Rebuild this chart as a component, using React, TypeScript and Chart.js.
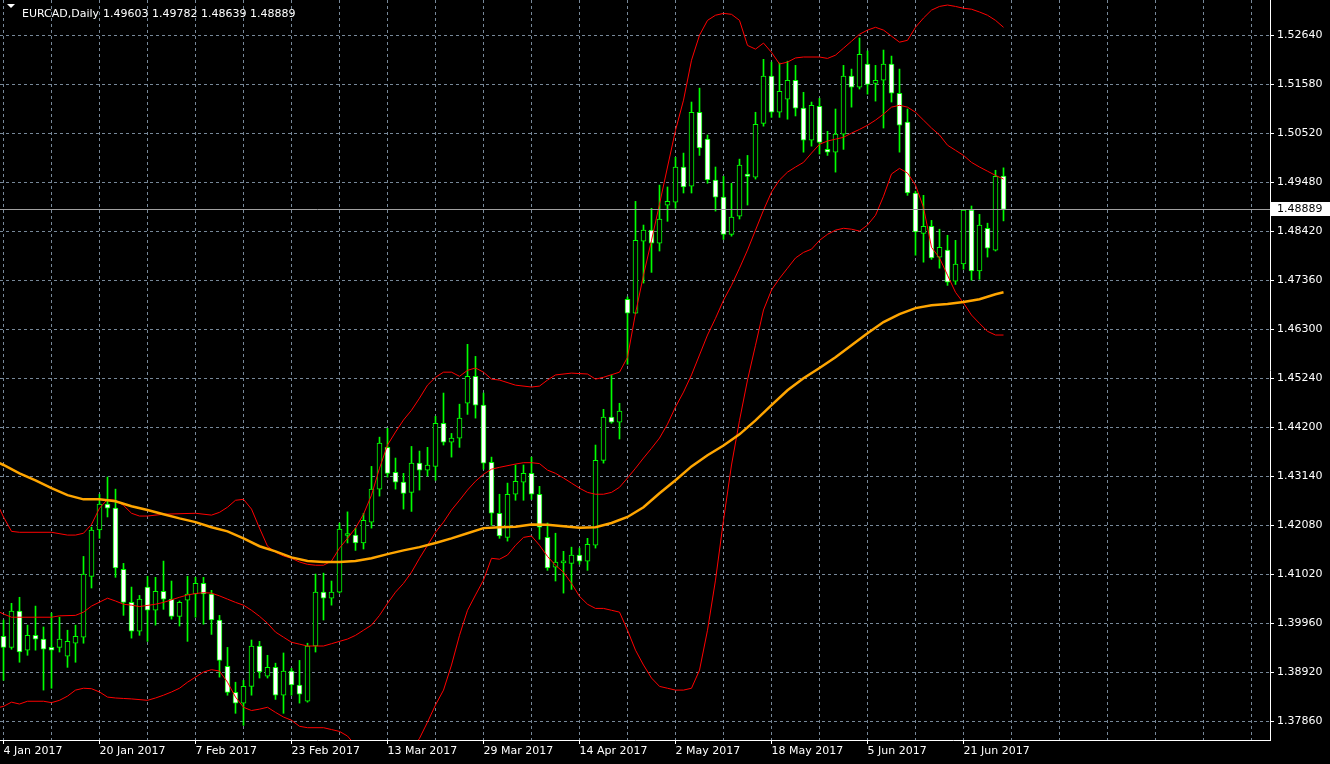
import React, { useEffect, useRef } from 'react';
import { Chart, registerables } from 'chart.js';

Chart.register(...registerables);

const FONT = '"DejaVu Sans", Verdana, sans-serif';

const symbol = 'EURCAD';
const period = 'Daily';

const xTickLabels = ['4 Jan 2017', '20 Jan 2017', '7 Feb 2017', '23 Feb 2017', '13 Mar 2017', '29 Mar 2017', '14 Apr 2017', '2 May 2017', '18 May 2017', '5 Jun 2017', '21 Jun 2017'];
const yTickLabels = ['1.37860', '1.38920', '1.39960', '1.41020', '1.42080', '1.43140', '1.44200', '1.45240', '1.46300', '1.47360', '1.48420', '1.49480', '1.50520', '1.51580', '1.52640'];

const opens = [1.3969, 1.3945, 1.4023, 1.3939, 1.3971, 1.3963, 1.3945, 1.3945, 1.3926, 1.3954, 1.3967, 1.4098, 1.4198, 1.4254, 1.4245, 1.4113, 1.4042, 1.3980, 1.4075, 1.4025, 1.4066, 1.4049, 1.4012, 1.4047, 1.4060, 1.4083, 1.4060, 1.4004, 1.3904, 1.3848, 1.3825, 1.3861, 1.3948, 1.3883, 1.3902, 1.3842, 1.3894, 1.3864, 1.3829, 1.3948, 1.4064, 1.4051, 1.4064, 1.4186, 1.4187, 1.4170, 1.4215, 1.4286, 1.4376, 1.4322, 1.4301, 1.4279, 1.4342, 1.4327, 1.4335, 1.4428, 1.4387, 1.4396, 1.4471, 1.4529, 1.4467, 1.4344, 1.4234, 1.4182, 1.4275, 1.4301, 1.4320, 1.4275, 1.4182, 1.4118, 1.4127, 1.4126, 1.4144, 1.4131, 1.4165, 1.4348, 1.4441, 1.4430, 1.4695, 1.4665, 1.4820, 1.4844, 1.4816, 1.4898, 1.4904, 1.4980, 1.4939, 1.5098, 1.5040, 1.4952, 1.4915, 1.4835, 1.4874, 1.4965, 1.4958, 1.5074, 1.5176, 1.5098, 1.5126, 1.5167, 1.5107, 1.5038, 1.5111, 1.5018, 1.5012, 1.5051, 1.5176, 1.5152, 1.5202, 1.5160, 1.5167, 1.5202, 1.5139, 1.5077, 1.4924, 1.4837, 1.4852, 1.4786, 1.4801, 1.4734, 1.4771, 1.4887, 1.4756, 1.4848, 1.4801, 1.49603];
const highs = [1.4004, 1.4040, 1.4053, 1.3993, 1.4034, 1.3989, 1.4019, 1.4010, 1.3982, 1.3993, 1.4141, 1.4204, 1.4275, 1.4312, 1.4286, 1.4126, 1.4075, 1.4057, 1.4098, 1.4096, 1.4131, 1.4088, 1.4045, 1.4098, 1.4096, 1.4096, 1.4068, 1.4014, 1.3945, 1.3870, 1.3874, 1.3961, 1.3958, 1.3928, 1.3911, 1.3933, 1.3900, 1.3917, 1.3954, 1.4103, 1.4105, 1.4088, 1.4213, 1.4237, 1.4202, 1.4234, 1.4335, 1.4398, 1.4417, 1.4353, 1.4320, 1.4378, 1.4368, 1.4376, 1.4443, 1.4493, 1.4406, 1.4469, 1.4598, 1.4572, 1.4493, 1.4355, 1.4275, 1.4299, 1.4338, 1.4338, 1.4355, 1.4292, 1.4213, 1.4191, 1.4152, 1.4161, 1.4159, 1.4180, 1.4381, 1.4458, 1.4531, 1.4471, 1.4700, 1.4906, 1.4855, 1.4891, 1.4941, 1.4937, 1.5001, 1.5010, 1.5120, 1.5150, 1.5049, 1.4980, 1.4960, 1.4945, 1.4997, 1.5005, 1.5098, 1.5212, 1.5206, 1.5204, 1.5208, 1.5199, 1.5141, 1.5120, 1.5128, 1.5057, 1.5105, 1.5199, 1.5191, 1.5258, 1.5230, 1.5199, 1.5232, 1.5219, 1.5191, 1.5105, 1.4928, 1.4919, 1.4865, 1.4846, 1.4833, 1.4822, 1.4888, 1.4896, 1.4878, 1.4859, 1.4973, 1.49782];
const lows = [1.3874, 1.3941, 1.3913, 1.3928, 1.3939, 1.3853, 1.3857, 1.3935, 1.3902, 1.3913, 1.3954, 1.4073, 1.4180, 1.4226, 1.4096, 1.4014, 1.3965, 1.3971, 1.3958, 1.3993, 1.4027, 1.4006, 1.3991, 1.3958, 1.4010, 1.3995, 1.3973, 1.3881, 1.3842, 1.3803, 1.3777, 1.3842, 1.3879, 1.3879, 1.3833, 1.3803, 1.3842, 1.3825, 1.3827, 1.3935, 1.4004, 1.4036, 1.4062, 1.4170, 1.4154, 1.4157, 1.4202, 1.4271, 1.4312, 1.4286, 1.4243, 1.4238, 1.4284, 1.4314, 1.4305, 1.4381, 1.4355, 1.4376, 1.4447, 1.4439, 1.4329, 1.4208, 1.4180, 1.4174, 1.4262, 1.4262, 1.4264, 1.4178, 1.4111, 1.4088, 1.4062, 1.4070, 1.4124, 1.4111, 1.4159, 1.4342, 1.4428, 1.4394, 1.4555, 1.4664, 1.4730, 1.4753, 1.4799, 1.4863, 1.4891, 1.4924, 1.4924, 1.5005, 1.4945, 1.4885, 1.4824, 1.4831, 1.4868, 1.4898, 1.4954, 1.5068, 1.5087, 1.5087, 1.5083, 1.5090, 1.5012, 1.5025, 1.5008, 1.5005, 1.4969, 1.5018, 1.5109, 1.5148, 1.5137, 1.5122, 1.5064, 1.5120, 1.5012, 1.4919, 1.4790, 1.4775, 1.4781, 1.4762, 1.4725, 1.4727, 1.4760, 1.4736, 1.4738, 1.4786, 1.4799, 1.48639];
const closes = [1.3945, 1.4023, 1.3935, 1.3971, 1.3963, 1.3941, 1.3939, 1.3963, 1.3958, 1.3969, 1.4103, 1.4198, 1.4254, 1.4245, 1.4116, 1.4042, 1.3980, 1.4049, 1.4025, 1.4066, 1.4049, 1.4012, 1.4042, 1.4060, 1.4083, 1.4060, 1.4004, 1.3917, 1.3848, 1.3825, 1.3861, 1.3948, 1.3892, 1.3902, 1.3842, 1.3894, 1.3864, 1.3844, 1.3948, 1.4064, 1.4051, 1.4064, 1.4200, 1.4188, 1.4170, 1.4219, 1.4286, 1.4385, 1.4320, 1.4301, 1.4277, 1.4342, 1.4327, 1.4338, 1.4428, 1.4387, 1.4396, 1.4439, 1.4529, 1.4467, 1.4342, 1.4234, 1.4185, 1.4275, 1.4303, 1.4320, 1.4275, 1.4204, 1.4116, 1.4129, 1.4129, 1.4144, 1.4131, 1.4167, 1.4348, 1.4441, 1.4430, 1.4454, 1.4665, 1.4822, 1.4844, 1.4816, 1.4868, 1.4906, 1.4980, 1.4937, 1.5098, 1.5021, 1.4952, 1.4915, 1.4835, 1.4872, 1.4984, 1.4960, 1.5072, 1.5176, 1.5098, 1.5143, 1.5167, 1.5107, 1.5038, 1.5113, 1.5033, 1.5012, 1.5051, 1.5176, 1.5152, 1.5223, 1.5158, 1.5167, 1.5202, 1.5139, 1.5070, 1.4924, 1.4840, 1.4852, 1.4784, 1.4807, 1.4732, 1.4771, 1.4887, 1.4756, 1.4855, 1.4805, 1.4960, 1.48889];

// [bar index, value]
const bbUpper = [[-1, 1.4262], [0, 1.4226], [1, 1.4195], [2, 1.4193], [6, 1.4193], [8, 1.4187], [9, 1.4187], [10, 1.4191], [11, 1.4210], [12, 1.4245], [13, 1.4264], [14, 1.4262], [15, 1.4251], [16, 1.4234], [17, 1.4228], [18, 1.4228], [20, 1.4232], [24, 1.4234], [26, 1.4230], [27, 1.4236], [28, 1.4247], [29, 1.4262], [30, 1.4264], [31, 1.4243], [32, 1.4202], [33, 1.4163], [34, 1.4150], [35, 1.4142], [36, 1.4137], [37, 1.4129], [38, 1.4124], [39, 1.4122], [40, 1.4122], [41, 1.4131], [42, 1.4159], [43, 1.4180], [44, 1.4202], [45, 1.4232], [46, 1.4273], [47, 1.4331], [48, 1.4381], [49, 1.4409], [50, 1.4435], [51, 1.4456], [52, 1.4482], [53, 1.4510], [54, 1.4527], [55, 1.4538], [56, 1.4538], [57, 1.4529], [58, 1.4542], [59, 1.4547], [60, 1.4538], [61, 1.4523], [62, 1.4521], [64, 1.4510], [66, 1.4506], [67, 1.4508], [68, 1.4521], [69, 1.4532], [71, 1.4536], [73, 1.4534], [74, 1.4523], [75, 1.4527], [77, 1.4538], [78, 1.4570], [79, 1.4665], [80, 1.4747], [81, 1.4822], [82, 1.4900], [83, 1.4980], [84, 1.5059], [85, 1.5124], [86, 1.5210], [87, 1.5264], [88, 1.5296], [89, 1.5307], [90, 1.5311], [91, 1.5309], [92, 1.5296], [93, 1.5242], [94, 1.5234], [95, 1.5247], [96, 1.5227], [97, 1.5202], [98, 1.5206], [99, 1.5215], [100, 1.5217], [102, 1.5217], [103, 1.5214], [104, 1.5221], [105, 1.5236], [106, 1.5251], [107, 1.5266], [108, 1.5275], [109, 1.5281], [110, 1.5275], [111, 1.5262], [112, 1.5249], [113, 1.5253], [114, 1.5281], [115, 1.5301], [116, 1.5318], [117, 1.5326], [118, 1.5329], [119, 1.5326], [120, 1.5322], [121, 1.5320], [122, 1.5314], [123, 1.5307], [124, 1.5296], [125, 1.5281]];
const bbMiddle = [[-1, 1.4025], [0, 1.4017], [1, 1.4010], [4, 1.4010], [6, 1.4010], [7, 1.4013], [9, 1.4014], [10, 1.4021], [11, 1.4034], [13, 1.4051], [14, 1.4045], [15, 1.4038], [16, 1.4036], [17, 1.4033], [19, 1.4038], [20, 1.4042], [22, 1.4053], [23, 1.4058], [24, 1.4061], [25, 1.4063], [26, 1.4062], [27, 1.4056], [28, 1.4049], [29, 1.4042], [30, 1.4036], [31, 1.4025], [32, 1.4012], [33, 1.3997], [34, 1.3978], [35, 1.3967], [36, 1.3956], [37, 1.3952], [38, 1.3948], [40, 1.3948], [41, 1.3953], [42, 1.3958], [43, 1.3963], [44, 1.3971], [45, 1.3982], [46, 1.3993], [47, 1.4014], [48, 1.4040], [49, 1.4064], [50, 1.4083], [51, 1.4107], [52, 1.4137], [53, 1.4165], [54, 1.4193], [55, 1.4215], [56, 1.4241], [57, 1.4262], [58, 1.4284], [59, 1.4303], [60, 1.4318], [61, 1.4329], [62, 1.4333], [64, 1.4340], [65, 1.4343], [66, 1.4343], [67, 1.4341], [68, 1.4327], [69, 1.4320], [70, 1.4310], [71, 1.4299], [72, 1.4288], [73, 1.4279], [74, 1.4275], [75, 1.4275], [76, 1.4279], [77, 1.4290], [78, 1.4310], [79, 1.4331], [80, 1.4353], [81, 1.4374], [82, 1.4396], [83, 1.4426], [84, 1.4463], [85, 1.4495], [86, 1.4532], [87, 1.4575], [88, 1.4618], [89, 1.4654], [90, 1.4693], [91, 1.4725], [92, 1.4762], [93, 1.4801], [94, 1.4844], [95, 1.4887], [96, 1.4926], [97, 1.4952], [98, 1.4969], [99, 1.4980], [100, 1.4990], [101, 1.5010], [102, 1.5029], [103, 1.5036], [104, 1.5040], [105, 1.5044], [106, 1.5053], [107, 1.5061], [108, 1.5070], [109, 1.5081], [110, 1.5094], [111, 1.5109], [112, 1.5113], [113, 1.5109], [114, 1.5098], [115, 1.5081], [116, 1.5064], [117, 1.5049], [118, 1.5027], [119, 1.5016], [120, 1.5005], [121, 1.4990], [122, 1.4980], [123, 1.4971], [124, 1.4962], [125, 1.4954]];
const bbLower = [[-1, 1.3814], [0, 1.3818], [1, 1.3827], [2, 1.3823], [3, 1.3829], [5, 1.3829], [6, 1.3826], [7, 1.3831], [8, 1.3840], [9, 1.3853], [10, 1.3857], [11, 1.3856], [12, 1.3849], [13, 1.3838], [14, 1.3836], [15, 1.3835], [16, 1.3834], [18, 1.3831], [19, 1.3836], [20, 1.3842], [21, 1.3849], [22, 1.3857], [23, 1.3870], [24, 1.3881], [25, 1.3892], [26, 1.3897], [27, 1.3894], [28, 1.3870], [29, 1.3838], [30, 1.3816], [31, 1.3809], [32, 1.3812], [33, 1.3816], [34, 1.3805], [35, 1.3795], [36, 1.3788], [37, 1.3775], [38, 1.3772], [40, 1.3772], [41, 1.3768], [42, 1.3764], [43, 1.3754], [44, 1.3734], [46, 1.3702], [48, 1.3680], [50, 1.3691], [51, 1.3723], [52, 1.3749], [53, 1.3784], [54, 1.3821], [55, 1.3853], [56, 1.3907], [57, 1.3971], [58, 1.4025], [59, 1.4058], [60, 1.4090], [61, 1.4137], [62, 1.4135], [63, 1.4144], [64, 1.4165], [65, 1.4182], [66, 1.4185], [67, 1.4165], [68, 1.4141], [69, 1.4122], [70, 1.4107], [71, 1.4083], [72, 1.4055], [73, 1.4038], [74, 1.4029], [75, 1.4029], [76, 1.4025], [77, 1.4021], [78, 1.3982], [79, 1.3939], [80, 1.3907], [81, 1.3879], [82, 1.3861], [83, 1.3857], [84, 1.3853], [85, 1.3853], [86, 1.3857], [87, 1.3896], [88, 1.3982], [89, 1.4090], [90, 1.4219], [91, 1.4338], [92, 1.4434], [93, 1.4521], [94, 1.4596], [95, 1.4672], [96, 1.4715], [97, 1.4740], [98, 1.4762], [99, 1.4784], [100, 1.4796], [101, 1.4803], [102, 1.4822], [103, 1.4835], [104, 1.4844], [105, 1.4848], [106, 1.4846], [107, 1.4842], [108, 1.4855], [109, 1.4876], [110, 1.4917], [111, 1.4965], [112, 1.4977], [113, 1.4967], [114, 1.4941], [115, 1.4893], [116, 1.4807], [117, 1.4784], [118, 1.4747], [119, 1.4710], [120, 1.4687], [121, 1.4661], [122, 1.4643], [123, 1.4626], [124, 1.4618], [125, 1.4618]];
const movingAverage = [[-1, 1.4346], [0, 1.4338], [2, 1.4320], [4, 1.4305], [6, 1.4288], [8, 1.4273], [10, 1.4264], [12, 1.4264], [14, 1.4260], [16, 1.4249], [18, 1.4241], [20, 1.4232], [22, 1.4223], [24, 1.4215], [26, 1.4204], [28, 1.4195], [30, 1.4180], [32, 1.4163], [34, 1.4152], [36, 1.4139], [38, 1.4131], [40, 1.4129], [42, 1.4129], [44, 1.4131], [46, 1.4137], [48, 1.4146], [50, 1.4154], [52, 1.4161], [54, 1.4170], [56, 1.4180], [58, 1.4191], [60, 1.4202], [62, 1.4204], [64, 1.4205], [66, 1.4210], [68, 1.4209], [70, 1.4206], [72, 1.4203], [74, 1.4204], [76, 1.4213], [78, 1.4226], [80, 1.4247], [82, 1.4277], [84, 1.4305], [86, 1.4335], [88, 1.4359], [90, 1.4380], [92, 1.4404], [94, 1.4434], [96, 1.4467], [98, 1.4499], [100, 1.4525], [102, 1.4547], [104, 1.4570], [106, 1.4596], [108, 1.4622], [110, 1.4646], [112, 1.4663], [114, 1.4676], [116, 1.4682], [118, 1.4685], [120, 1.4689], [122, 1.4695], [124, 1.4706], [125, 1.4710]];

// layout constants (pixels)
const CANVAS_W = 1330;
const CANVAS_H = 764;
const PLOT_RIGHT = 1270;
const PLOT_BOTTOM = 740;
const BAR_SPACING = 8;
const FIRST_BAR_CENTER = 3.5;
const GRID_SPACING_Y = 49;
const FIRST_GRID_Y = 721.2;

const GRID_COLOR = '#778899';
const GRID_DASH = [3, 3];

export default function App() {
  const canvasRef = useRef<HTMLCanvasElement | null>(null);

  useEffect(() => {
    document.body.style.margin = '0';
    document.body.style.background = '#000';
    const canvas = canvasRef.current;
    if (!canvas) return;

    const idx = opens.map((_, i) => i);
    const wicks = idx.map((i) => ({ x: i, y: [lows[i], highs[i]] }));
    const bodies = idx.map((i) => ({ x: i, y: [opens[i], closes[i]] }));
    const bodyFill = idx.map((i) => (closes[i] >= opens[i] ? '#000000' : '#ffffff'));
    const toPts = (arr: number[][]) => arr.map(([x, y]) => ({ x, y }));

    const yTickValues = yTickLabels.map((s) => parseFloat(s));
    const yFirst = yTickValues[0];
    const yStep = (yTickValues[yTickValues.length - 1] - yFirst) / (yTickValues.length - 1);
    const pxPerPrice = GRID_SPACING_Y / yStep;
    const yMax = yFirst + FIRST_GRID_Y / pxPerPrice;
    const yMin = yMax - PLOT_BOTTOM / pxPerPrice;
    const gridValues = yTickLabels.map((_, i) => yFirst + i * yStep);

    const xMin = -FIRST_BAR_CENTER / BAR_SPACING;
    const xMax = xMin + PLOT_RIGHT / BAR_SPACING;
    const xTicks: number[] = [];
    for (let k = 0; k <= xMax; k += 6) xTicks.push(k);

    const lastIdx = closes.length - 1;

    const overlay = {
      id: 'mt4overlay',
      beforeDraw(chart: any) {
        const c = chart.ctx;
        c.save();
        c.fillStyle = '#000000';
        c.fillRect(0, 0, chart.width, chart.height);
        c.restore();
      },
      afterDraw(chart: any) {
        const c = chart.ctx;
        const ys = chart.scales.y;
        const area = chart.chartArea;
        const lastClose = closes[lastIdx];
        const py = Math.round(ys.getPixelForValue(lastClose)) + 0.5;
        c.save();
        // bid line
        c.strokeStyle = '#a0a0a0';
        c.lineWidth = 1;
        c.beginPath();
        c.moveTo(area.left, py);
        c.lineTo(area.right, py);
        c.stroke();
        // price label box
        c.fillStyle = '#ffffff';
        c.fillRect(area.right + 1, py - 7.5, CANVAS_W - area.right - 1, 14);
        c.fillStyle = '#000000';
        c.font = `11px ${FONT}`;
        c.textBaseline = 'middle';
        c.textAlign = 'left';
        c.fillText(lastClose.toFixed(5), area.right + 7, py);
        // header
        c.fillStyle = '#ffffff';
        c.beginPath();
        c.moveTo(7, 4);
        c.lineTo(15, 4);
        c.lineTo(11, 8);
        c.closePath();
        c.fill();
        c.textBaseline = 'alphabetic';
        c.fillText(`${symbol},${period}`, 22, 17);
        const vals = [opens[lastIdx], highs[lastIdx], lows[lastIdx], closes[lastIdx]].map((v) => v.toFixed(5)).join(' ');
        c.fillText(vals, 103, 17);
        c.restore();
      },
    };

    const chart = new Chart(canvas, {
      type: 'bar',
      data: {
        datasets: [
          { type: 'line', label: 'MA', data: toPts(movingAverage), borderColor: '#ffa500', borderWidth: 2.5, pointRadius: 0, tension: 0, order: 0 } as any,
          { type: 'line', label: 'BB upper', data: toPts(bbUpper), borderColor: '#ff0000', borderWidth: 1, pointRadius: 0, tension: 0, order: 1 } as any,
          { type: 'line', label: 'BB middle', data: toPts(bbMiddle), borderColor: '#ff0000', borderWidth: 1, pointRadius: 0, tension: 0, order: 2 } as any,
          { type: 'line', label: 'BB lower', data: toPts(bbLower), borderColor: '#ff0000', borderWidth: 1, pointRadius: 0, tension: 0, order: 3 } as any,
          { type: 'bar', label: 'body', data: bodies, backgroundColor: bodyFill, borderColor: '#00ff00', borderWidth: 1, borderSkipped: false, barThickness: 5, grouped: false, minBarLength: 2, order: 5, clip: 0 } as any,
          { type: 'bar', label: 'wick', data: wicks, backgroundColor: '#00ff00', borderWidth: 0, barThickness: 1, grouped: false, order: 6, clip: 0 } as any,
        ],
      },
      options: {
        animation: false,
        responsive: false,
        maintainAspectRatio: false,
        devicePixelRatio: 1,
        layout: { padding: 0 },
        plugins: { legend: { display: false }, tooltip: { enabled: false }, title: { display: false } },
        scales: {
          x: {
            type: 'linear',
            position: 'bottom',
            min: xMin,
            max: xMax,
            offset: false,
            afterBuildTicks: (s: any) => { s.ticks = xTicks.map((v) => ({ value: v })); },
            afterFit: (s: any) => {
              s.height = CANVAS_H - PLOT_BOTTOM;
              s.paddingLeft = 0; s.paddingRight = 0; s.paddingTop = 0; s.paddingBottom = 0;
            },
            grid: {
              display: true,
              offset: false,
              color: GRID_COLOR,
              lineWidth: 1,
              drawTicks: true,
              tickLength: 4,
              tickColor: (ctx: any) => (ctx.tick && ctx.tick.label ? '#ffffff' : 'rgba(0,0,0,0)'),
              tickBorderDash: [],
              borderDash: GRID_DASH,
            },
            border: { display: true, color: '#ffffff', width: 1, dash: GRID_DASH },
            ticks: {
              autoSkip: false,
              maxRotation: 0,
              minRotation: 0,
              align: 'start',
              padding: 1,
              color: '#ffffff',
              font: { family: FONT, size: 11 },
              callback: (value: any) => {
                const k = Math.round(Number(value));
                const li = k / 12;
                return k % 12 === 0 && li < xTickLabels.length ? xTickLabels[li] : '';
              },
            },
          } as any,
          y: {
            type: 'linear',
            position: 'right',
            min: yMin,
            max: yMax,
            afterBuildTicks: (s: any) => { s.ticks = gridValues.map((v) => ({ value: v })); },
            afterFit: (s: any) => {
              s.width = CANVAS_W - PLOT_RIGHT;
              s.paddingLeft = 0; s.paddingRight = 0; s.paddingTop = 0; s.paddingBottom = 0;
            },
            grid: {
              display: true,
              color: GRID_COLOR,
              lineWidth: 1,
              drawTicks: true,
              tickLength: 4,
              tickColor: '#ffffff',
              tickBorderDash: [],
              borderDash: GRID_DASH,
            },
            border: { display: true, color: '#ffffff', width: 1, dash: GRID_DASH },
            ticks: {
              autoSkip: false,
              padding: 3,
              color: '#ffffff',
              font: { family: FONT, size: 11 },
              callback: (_v: any, i: number) => yTickLabels[i],
            },
          } as any,
        },
      },
      plugins: [overlay],
    });

    return () => chart.destroy();
  }, []);

  return (
    <div style={{ width: CANVAS_W, height: CANVAS_H, background: '#000' }}>
      <canvas ref={canvasRef} width={CANVAS_W} height={CANVAS_H} style={{ display: 'block' }} />
    </div>
  );
}
